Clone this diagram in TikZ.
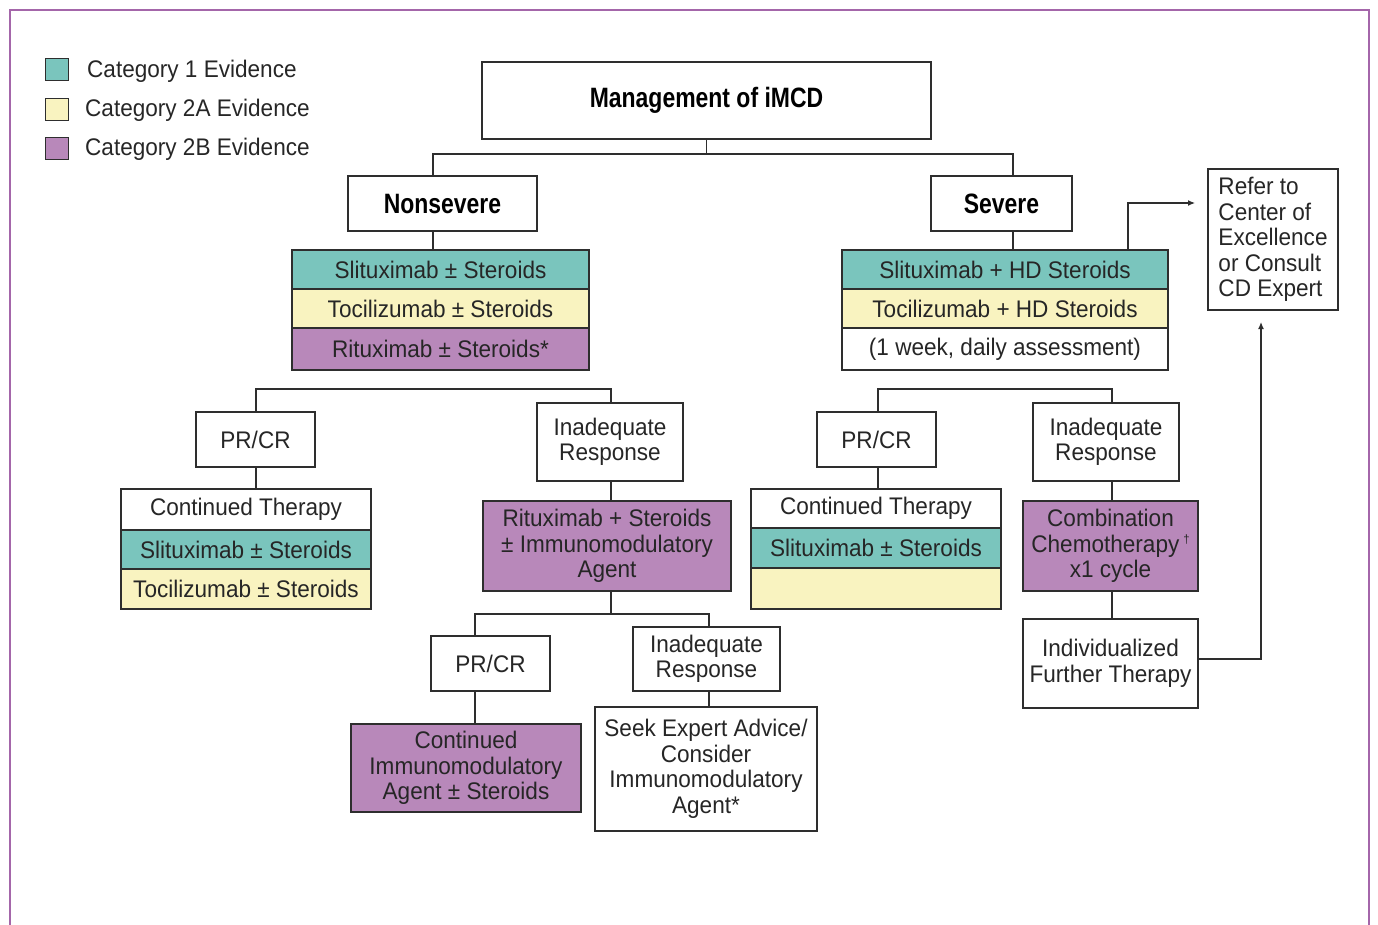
\documentclass[tikz,border=0pt]{standalone}
\usepackage{fontspec}
\setmainfont[FakeStretch=0.94]{Liberation Sans}
\newfontfamily\headfont[FakeStretch=0.82]{Liberation Sans}
\usetikzlibrary{arrows.meta}
\definecolor{teal1}{HTML}{7AC5BD}
\definecolor{yel1}{HTML}{F9F3C0}
\definecolor{pur1}{HTML}{B888BA}
\definecolor{framec}{HTML}{A466AA}
\definecolor{linec}{HTML}{2E2E2E}
\tikzset{
  box/.style={draw=linec, line width=1.2pt, fill=white, inner sep=2pt, align=center,
    font=\fontsize{24}{25.5}\selectfont, text=black!85},
  hbox/.style={box, font=\headfont\bfseries\fontsize{28}{30}\selectfont, text=black},
  cat1/.style={box, fill=teal1},
  cat2a/.style={box, fill=yel1},
  cat2b/.style={box, fill=pur1},
  conn/.style={draw=linec, line width=1.2pt},
  arr/.style={conn, -{Latex[length=7pt,width=6pt]}},
  legtxt/.style={anchor=west, font=\fontsize{24}{26}\selectfont, text=black!85, inner sep=0pt},
  legsq/.style={draw=linec, line width=1pt, minimum width=23pt, minimum height=22pt, inner sep=0pt}
}
\begin{document}
\begin{tikzpicture}[x=1pt,y=-1pt]
\useasboundingbox (0,0) rectangle (1378,924);
\draw[framec, line width=2.8pt] (10,926) -- (10,10) -- (1369,10) -- (1369,926);

% legend
\node[legsq, fill=teal1] (lg1) at (56.5,69) {};
\node[legsq, fill=yel1] (lg2) at (56.5,109) {};
\node[legsq, fill=pur1] (lg3) at (56.5,148) {};
\node[legtxt] (lt1) at (87,71) {Category 1 Evidence};
\node[legtxt] (lt2) at (85,110) {Category 2A Evidence};
\node[legtxt] (lt3) at (85,149) {Category 2B Evidence};

% top
\node[hbox, minimum width=449pt, minimum height=77pt] (title) at (706.5,100.5) {Management of iMCD};
\node[hbox, minimum width=189pt, minimum height=55pt] (nonsev) at (442.5,203.5) {Nonsevere};
\node[hbox, minimum width=141pt, minimum height=55pt] (sev) at (1001.5,203.5) {Severe};

% nonsevere stack
\node[cat1, minimum width=297pt, minimum height=39pt] (ns1) at (440.5,269.5) {Slituximab ± Steroids};
\node[cat2a, minimum width=297pt, minimum height=39pt] (ns2) at (440.5,308.5) {Tocilizumab ± Steroids};
\node[cat2b, minimum width=297pt, minimum height=42pt] (ns3) at (440.5,349) {Rituximab ± Steroids*};

% severe stack
\node[cat1, minimum width=326pt, minimum height=39pt] (s1) at (1005,269.5) {Slituximab + HD Steroids};
\node[cat2a, minimum width=326pt, minimum height=39pt] (s2) at (1005,308.5) {Tocilizumab + HD Steroids};
\node[box, minimum width=326pt, minimum height=42pt] (s3) at (1005,349) {(1 week, daily assessment)};

% refer
\node[box, minimum width=130pt, minimum height=141pt, align=left, font=\fontsize{24}{25.5}\selectfont] (refer) at (1273,239.5) {Refer to\\Center of\\Excellence\\or Consult\\CD Expert};

% nonsevere branch
\node[box, minimum width=119pt, minimum height=55pt] (prcr1) at (255.5,439.5) {PR/CR};
\node[box, minimum width=146pt, minimum height=78pt] (inad1) at (610,442) {Inadequate\\Response};
\node[box, minimum width=250pt, minimum height=41pt] (ct1a) at (246,509.5) {Continued Therapy};
\node[cat1, minimum width=250pt, minimum height=39pt] (ct1b) at (246,549.5) {Slituximab ± Steroids};
\node[cat2a, minimum width=250pt, minimum height=40pt] (ct1c) at (246,589) {Tocilizumab ± Steroids};
\node[cat2b, minimum width=248pt, minimum height=90pt] (rit) at (607,546) {Rituximab + Steroids\\± Immunomodulatory\\Agent};
\node[box, minimum width=119pt, minimum height=55pt] (prcr2) at (490.5,663.5) {PR/CR};
\node[box, minimum width=147pt, minimum height=64pt] (inad2) at (706.5,659) {Inadequate\\Response};
\node[cat2b, minimum width=230pt, minimum height=88pt] (cim) at (466,768) {Continued\\Immunomodulatory\\Agent ± Steroids};
\node[box, minimum width=222pt, minimum height=124pt] (seek) at (706,769) {Seek Expert Advice/\\Consider\\Immunomodulatory\\Agent*};

% severe branch
\node[box, minimum width=119pt, minimum height=55pt] (prcr3) at (876.5,439.5) {PR/CR};
\node[box, minimum width=146pt, minimum height=78pt] (inad3) at (1106,442) {Inadequate\\Response};
\node[box, minimum width=250pt, minimum height=39pt] (ct2a) at (876,508.5) {Continued Therapy};
\node[cat1, minimum width=250pt, minimum height=40pt] (ct2b) at (876,548) {Slituximab ± Steroids};
\node[cat2a, minimum width=250pt, minimum height=41pt] (ct2c) at (876,588.5) {};
\node[cat2b, minimum width=175pt, minimum height=90pt] (comb) at (1110.5,546) {Combination\\Chemotherapy\,\raisebox{0.7ex}{\fontsize{12}{12}\selectfont †}\\x1 cycle};
\node[box, minimum width=175pt, minimum height=89pt] (indiv) at (1110.5,663.5) {Individualized\\Further Therapy};

% junction coordinates
\coordinate (topL) at (433,154);
\coordinate (topR) at (1013,154);
\coordinate (b1L) at (256,389);
\coordinate (b1R) at (611,389);
\coordinate (b2L) at (475,614);
\coordinate (b2R) at (709,614);
\coordinate (b3L) at (878,389);
\coordinate (b3R) at (1112,389);
\coordinate (rx) at (1128,203);
\coordinate (rA) at (1195,203);
\coordinate (rB) at (1261,322);

% connectors
\draw[conn] (title.south) -- (title.south |- topL);
\draw[conn] (topL |- nonsev.north) -- (topL) -- (topR) -- (topR |- sev.north);
\draw[conn] (topL |- nonsev.south) -- (topL |- ns1.north);
\draw[conn] (topR |- sev.south) -- (topR |- s1.north);
\draw[arr] (rx |- s1.north) -- (rx) -- (rA);
\draw[arr] (indiv.east |- 0,659) -| (rB);

\draw[conn] (b1L |- prcr1.north) -- (b1L) -- (b1R) -- (b1R |- inad1.north);
\draw[conn] (b1L |- prcr1.south) -- (b1L |- ct1a.north);
\draw[conn] (b1R |- inad1.south) -- (b1R |- rit.north);
\draw[conn] (b1R |- rit.south) -- (b1R |- b2L);
\draw[conn] (b2L |- prcr2.north) -- (b2L) -- (b2R) -- (b2R |- inad2.north);
\draw[conn] (b2L |- prcr2.south) -- (b2L |- cim.north);
\draw[conn] (b2R |- inad2.south) -- (b2R |- seek.north);

\draw[conn] (b3L |- prcr3.north) -- (b3L) -- (b3R) -- (b3R |- inad3.north);
\draw[conn] (b3L |- prcr3.south) -- (b3L |- ct2a.north);
\draw[conn] (b3R |- inad3.south) -- (b3R |- comb.north);
\draw[conn] (b3R |- comb.south) -- (b3R |- indiv.north);
\end{tikzpicture}
\end{document}
